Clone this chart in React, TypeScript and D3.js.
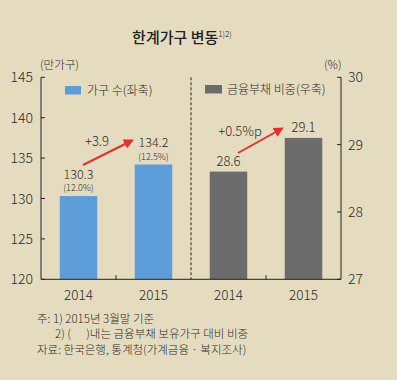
import React from "react";
import * as d3 from "d3";

const categories = ["2014a", "2015a", "2014b", "2015b"];
const categoryLabels = ["2014", "2015", "2014", "2015"];
const householdYears = ["2014a", "2015a"];
const householdValues = [130.3, 134.2];
const householdShares = ["(12.0%)", "(12.5%)"];
const debtYears = ["2014b", "2015b"];
const debtValues = [28.6, 29.1];
const leftTicks = [120, 125, 130, 135, 140, 145];
const rightTicks = [27, 28, 29, 30];
const householdChange = "+3.9";
const debtChange = "+0.5%p";

const W = 397;
const H = 380;
const BG = "#e5dcc0";
const BLUE = "#5c9cd8";
const GREY = "#6c6c6c";
const RED = "#e4302e";
const FONT = "'Noto Sans CJK KR', 'Noto Sans', sans-serif";
const TXT = "#2a2a2a";

export default function App() {
  const left = 41, right = 341, top = 77.3, bottom = 279.3;
  const x = d3.scaleBand<string>().domain(categories).range([left, right]).paddingInner(0.5).paddingOuter(0.25);
  const yL = d3.scaleLinear().domain([120, 145]).range([bottom, top]);
  const yR = d3.scaleLinear().domain([27, 30]).range([bottom, top]);
  const bw = x.bandwidth();
  const step = x.step();
  const cx = (c: string) => (x(c) as number) + bw / 2;
  const divider = (x("2014b") as number) - (step - bw) / 2;
  const tick1 = (x("2015a") as number) - (step - bw) / 2;
  const tick2 = (x("2015b") as number) - (step - bw) / 2;

  return (
    <svg width={W} height={H} style={{ position: "absolute", left: 0, top: 0, background: BG }} fontFamily={FONT} fontWeight={300}>
      <defs>
        <marker id="ah" viewBox="0 0 10 10" refX="8" refY="5" markerWidth="5" markerHeight="5" orient="auto">
          <path d="M0,0 L10,5 L0,10 z" fill={RED} />
        </marker>
      </defs>
      <rect x={0} y={0} width={W} height={H} fill={BG} />
      <text x={182} y={43} textAnchor="middle" fontSize={15} fontWeight={500} fill="#222">
        한계가구 변동<tspan fontSize={8} dy={-6} fontWeight={300}>1)2)</tspan>
      </text>
      <text x={40} y={69} fontSize={11.5} fill={TXT}>(만가구)</text>
      <text x={324} y={69} fontSize={11.5} fill={TXT}>(%)</text>

      {/* bars */}
      {householdYears.map((c, i) => (
        <rect key={c} x={x(c)} y={yL(householdValues[i])} width={bw} height={bottom - yL(householdValues[i])} fill={BLUE} />
      ))}
      {debtYears.map((c, i) => (
        <rect key={c} x={x(c)} y={yR(debtValues[i])} width={bw} height={bottom - yR(debtValues[i])} fill={GREY} />
      ))}

      {/* axes */}
      <line x1={left} x2={left} y1={top} y2={bottom} stroke="#222" strokeWidth={1} />
      <line x1={right} x2={right} y1={top} y2={bottom} stroke="#222" strokeWidth={1} />
      <line x1={left} x2={right} y1={bottom} y2={bottom} stroke="#222" strokeWidth={1} />
      <line x1={divider} x2={divider} y1={top} y2={bottom} stroke="#222" strokeWidth={1} strokeDasharray="3,2" />
      <line x1={tick1} x2={tick1} y1={bottom} y2={bottom - 4} stroke="#222" />
      <line x1={tick2} x2={tick2} y1={bottom} y2={bottom - 4} stroke="#222" />
      {leftTicks.map((t) => (
        <g key={t}>
          <line x1={left} x2={left + 4} y1={yL(t)} y2={yL(t)} stroke="#222" />
          <text x={33} y={yL(t) + 5} textAnchor="end" fontSize={14} fill={TXT}>{t}</text>
        </g>
      ))}
      {rightTicks.map((t) => (
        <g key={t}>
          <line x1={right - 4} x2={right} y1={yR(t)} y2={yR(t)} stroke="#222" />
          <text x={348} y={yR(t) + 5} fontSize={14} fill={TXT}>{t}</text>
        </g>
      ))}
      {categories.map((c, i) => (
        <text key={c} x={cx(c)} y={300} textAnchor="middle" fontSize={13.5} fill={TXT}>{categoryLabels[i]}</text>
      ))}

      {/* legend */}
      <rect x={65} y={86} width={16} height={8.5} fill={BLUE} />
      <text x={87} y={95} fontSize={12} fill={TXT}>가구 수(좌축)</text>
      <rect x={205} y={85} width={17} height={8.5} fill={GREY} />
      <text x={227} y={94} fontSize={12} fill={TXT}>금융부채 비중(우축)</text>

      {/* value labels */}
      {householdYears.map((c, i) => (
        <g key={c}>
          <text x={cx(c)} y={yL(householdValues[i]) - 17.5} textAnchor="middle" fontSize={12.5} fill={TXT}>{householdValues[i].toFixed(1)}</text>
          <text x={cx(c)} y={yL(householdValues[i]) - 5} textAnchor="middle" fontSize={9} fill={TXT}>{householdShares[i]}</text>
        </g>
      ))}
      {debtYears.map((c, i) => (
        <text key={c} x={cx(c)} y={yR(debtValues[i]) - 6} textAnchor="middle" fontSize={13} fill={TXT}>{debtValues[i].toFixed(1)}</text>
      ))}

      {/* change arrows */}
      <line x1={83} y1={165} x2={132} y2={140.5} stroke={RED} strokeWidth={2} markerEnd="url(#ah)" />
      <text x={97} y={146} textAnchor="middle" fontSize={13} fill={TXT}>{householdChange}</text>
      <line x1={238} y1={153} x2={282} y2={128.5} stroke={RED} strokeWidth={2} markerEnd="url(#ah)" />
      <text x={240} y={136} textAnchor="middle" fontSize={13} fill={TXT}>{debtChange}</text>

      {/* notes */}
      <text x={37} y={323} fontSize={11.5} fill={TXT}>주: 1) 2015년 3월말 기준</text>
      <text x={55} y={338} fontSize={11.5} fill={TXT} style={{ whiteSpace: "pre" }}>{"2) (      )내는 금융부채 보유가구 대비 비중"}</text>
      <text x={37} y={354} fontSize={11.5} fill={TXT}>자료: 한국은행, 통계청(가계금융 · 복지조사)</text>
    </svg>
  );
}
